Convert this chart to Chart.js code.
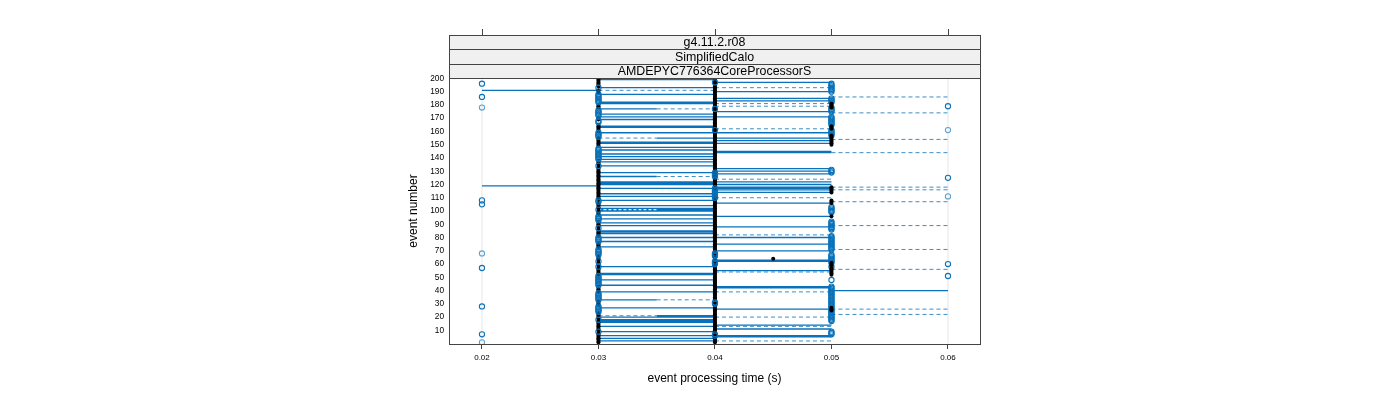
<!DOCTYPE html>
<html>
<head>
<meta charset="utf-8">
<script src="https://cdn.jsdelivr.net/npm/chart.js@4.4.0/dist/chart.umd.min.js"></script>
<style>html,body{margin:0;background:#fff}</style>
</head>
<body>
<canvas id="chart" width="1400" height="400"></canvas>
<script>
// strip labels, top to bottom
const stripLabels = ['g4.11.2.r08', 'SimplifiedCalo', 'AMDEPYC776364CoreProcessorS'];

// axis ticks
const xTicks = [0.02, 0.03, 0.04, 0.05, 0.06];
const xTickLabels = ['0.02', '0.03', '0.04', '0.05', '0.06'];
const yTicks = [10, 20, 30, 40, 50, 60, 70, 80, 90, 100, 110, 120, 130, 140, 150, 160, 170, 180, 190, 200];

// open circles (event numbers) per time value
const open02 = [196, 186, 108, 105, 57, 28, 7];
const open02Light = [178, 68, 1];
const open03 = [193, 188, 187, 186, 185, 184, 183, 182, 176, 175, 174, 173, 172, 168, 167, 159, 158, 157, 156,
  147, 146, 145, 144, 143, 142, 141, 140, 139, 134, 108, 107, 101, 96, 95, 94, 93, 87, 80, 79, 78, 77,
  71, 70, 69, 68, 67, 62, 58, 51, 50, 49, 48, 47, 46, 45, 44, 38, 37, 36, 35, 34, 33, 28, 27, 26, 25, 24, 18, 9];
const open04 = [197, 177, 161, 129, 128, 127, 126, 117, 116, 115, 114, 113, 112, 111, 110, 68, 67, 66, 62, 61, 60, 31, 30, 7, 6];
const open05 = [196, 195, 194, 193, 192, 191, 190, 185, 184, 183, 182, 178, 177, 176, 175, 171, 170, 169, 168, 167,
  166, 165, 161, 160, 159, 158, 157, 131, 130, 129, 103, 102, 101, 100, 99, 92, 91, 90, 89, 88, 87, 86,
  81, 80, 79, 78, 77, 76, 75, 74, 73, 72, 71, 67, 66, 65, 64, 63, 62, 61, 58, 48, 43, 42, 41, 40, 39, 38,
  37, 36, 35, 34, 33, 32, 31, 30, 29, 28, 27, 26, 25, 24, 23, 22, 21, 20, 19, 18, 17, 9, 8, 7];
const open06 = [179, 125, 60, 51];
const open06Light = [161, 111];

// filled black dots (event numbers) per time value
const black03 = [200, 199, 198, 197, 196, 195, 194, 191, 190, 189, 180, 179, 178, 170, 169, 165, 164, 163, 162, 161,
  160, 155, 154, 153, 152, 151, 150, 149, 138, 137, 136, 135, 133, 132, 131, 130, 129, 128, 127, 126, 125,
  124, 123, 122, 121, 120, 119, 118, 117, 116, 115, 114, 113, 112, 111, 110, 109, 106, 105, 104, 103, 102,
  100, 99, 98, 92, 91, 90, 89, 88, 86, 85, 84, 83, 82, 81, 76, 75, 74, 73, 72, 66, 65, 64, 63, 61, 60, 59,
  57, 56, 55, 54, 53, 52, 43, 42, 41, 40, 39, 32, 31, 30, 29, 23, 22, 21, 20, 19, 17, 16, 15, 14, 13, 12,
  11, 10, 8, 7, 6, 5, 4, 3, 2, 1];
const black04 = [200, 199, 198, 197, 196, 195, 194, 193, 192, 191, 190, 189, 188, 187, 186, 185, 184, 183, 182, 181,
  180, 179, 178, 177, 176, 175, 174, 173, 172, 171, 170, 169, 168, 167, 166, 165, 164, 163, 162, 161,
  160, 159, 158, 157, 156, 155, 154, 153, 152, 151, 150, 149, 148, 147, 146, 145, 144, 143, 142, 141,
  140, 139, 138, 137, 136, 135, 134, 133, 132, 131, 130, 129, 128, 127, 126, 125, 124, 123, 122, 121,
  120, 119, 118, 117, 116, 115, 114, 113, 112, 111, 110, 109, 108, 107, 106, 105, 104, 103, 102, 101,
  100, 99, 98, 97, 96, 95, 94, 93, 92, 91, 90, 89, 88, 87, 86, 85, 84, 83, 82, 81,
  80, 79, 78, 77, 76, 75, 74, 73, 72, 71, 70, 69, 68, 67, 66, 65, 64, 63, 62, 61,
  60, 59, 58, 57, 56, 55, 54, 53, 52, 51, 50, 49, 48, 47, 46, 45, 44, 43, 42, 41,
  40, 39, 38, 37, 36, 35, 34, 33, 32, 31, 30, 29, 28, 27, 26, 25, 24, 23, 22, 21,
  20, 19, 18, 17, 16, 15, 14, 13, 12, 11, 10, 9, 8, 7, 6, 5, 4, 3, 2, 1];
const black045 = [64];
const black05 = [181, 180, 179, 178, 164, 163, 162, 157, 156, 155, 154, 153, 152, 151, 150, 118, 117, 116, 115, 114,
  108, 107, 106, 96, 61, 60, 59, 58, 57, 56, 55, 54, 53, 52, 27, 26, 25];

// horizontal segments (event numbers) by span
const solid02to03 = [191, 119];
const solid03to04 = [199, 193, 188, 182, 181, 173, 171, 169, 164, 163, 159, 152, 151, 148, 146, 143, 141, 139, 137, 134,
  129, 122, 121, 120, 117, 113, 111, 108, 104, 102, 101, 100, 97, 94, 91, 89, 85, 84, 83, 80, 77, 73,
  58, 53, 52, 48, 44, 39, 27, 20, 18, 17, 16, 13, 9, 6, 4, 2];
const solid03to035 = [177, 126, 33];
const solid035to04 = [155, 21];
const solid04to05 = [197, 190, 185, 183, 175, 171, 159, 155, 153, 151, 145, 144, 132, 130, 128, 122, 120, 118, 117, 116,
  114, 106, 96, 88, 80, 75, 70, 63, 62, 55, 43, 42, 26, 14, 11, 6, 5];
const solid05to06 = [40];
const dash03to04 = [191];
const dash03to035 = [155, 21];
const dash035to04 = [177, 126, 33];
const paleDash03to035 = [101];
const dash04to05 = [193, 181, 179, 162, 124, 120, 110, 82, 54, 39, 20, 13, 2];
const dash05to06 = [186, 174, 154, 144, 118, 116, 107, 89, 71, 56, 26, 22];

const refLines = [0.02, 0.06];

const blue = '#0a72ba';

function pts(x, evs) { return evs.map(e => ({x: x, y: e})); }
function segs(groups) {
  const out = [];
  groups.forEach(([x0, x1, evs]) => evs.forEach(e => {
    out.push({x: x0, y: e}, {x: x1, y: e}, {x: x1, y: null});
  }));
  return out;
}

const circleDs = (data, alpha) => ({
  data, showLine: false, pointRadius: 2.6, pointBorderWidth: 1.1,
  pointBackgroundColor: 'rgba(0,0,0,0)', pointBorderColor: alpha < 1 ? 'rgba(10,114,186,' + alpha + ')' : blue
});
const dotDs = data => ({
  data, showLine: false, pointRadius: 2, pointBorderWidth: 0, pointBackgroundColor: '#000'
});
const lineDs = (data, color, width, dash) => ({
  data, showLine: true, spanGaps: false, pointRadius: 0, borderColor: color, borderWidth: width, borderDash: dash
});

const datasets = [
  dotDs(pts(0.05, black05)),
  circleDs(pts(0.02, open02), 1),
  circleDs(pts(0.02, open02Light), 0.65),
  circleDs(pts(0.03, open03), 1),
  circleDs(pts(0.04, open04), 1),
  circleDs(pts(0.05, open05), 1),
  circleDs(pts(0.06, open06), 1),
  circleDs(pts(0.06, open06Light), 0.65),
  dotDs(pts(0.03, black03)),
  dotDs(pts(0.04, black04)),
  dotDs(pts(0.045, black045)),
  lineDs(segs([[0.03, 0.035, paleDash03to035]]), 'rgba(235,243,250,0.95)', 1.2, [3, 2]),
  lineDs(segs([[0.02, 0.03, solid02to03], [0.03, 0.04, solid03to04], [0.03, 0.035, solid03to035],
    [0.035, 0.04, solid035to04], [0.04, 0.05, solid04to05], [0.05, 0.06, solid05to06]]), blue, 1.3, []),
  lineDs(segs([[0.03, 0.04, dash03to04], [0.03, 0.035, dash03to035], [0.035, 0.04, dash035to04],
    [0.04, 0.05, dash04to05], [0.05, 0.06, dash05to06]]), 'rgba(10,114,186,0.8)', 1, [4, 3]),
  lineDs(refLines.flatMap(x => [{x: x, y: 0}, {x: x, y: 200}, {x: x, y: null}]), '#e6e6e6', 1, [])
];

const lattice = {
  id: 'lattice',
  afterDraw(chart) {
    const {ctx, chartArea: a} = chart;
    const x = chart.scales.x;
    ctx.save();
    ctx.strokeStyle = '#444';
    ctx.lineWidth = 1;
    ctx.strokeRect(Math.round(a.left) + 0.5, Math.round(a.top) + 0.5,
      Math.round(a.right - a.left), Math.round(a.bottom - a.top));
    const stripH = 14.5;
    const top = a.top - stripH * stripLabels.length;
    ctx.font = '12.4px "Liberation Sans", Arial, sans-serif';
    ctx.textAlign = 'center';
    ctx.textBaseline = 'middle';
    stripLabels.forEach((lab, i) => {
      const y0 = Math.round(top + i * stripH) + 0.5;
      const y1 = Math.round(top + (i + 1) * stripH) + 0.5;
      ctx.fillStyle = '#f0f0f0';
      ctx.fillRect(a.left + 0.5, y0, a.right - a.left, y1 - y0);
      ctx.strokeRect(Math.round(a.left) + 0.5, y0, Math.round(a.right - a.left), y1 - y0);
      ctx.fillStyle = '#000';
      ctx.fillText(lab, (a.left + a.right) / 2, (y0 + y1) / 2 + 0.5);
    });
    // ticks above the strips
    ctx.beginPath();
    xTicks.forEach(v => {
      const px = Math.round(x.getPixelForValue(v)) + 0.5;
      ctx.moveTo(px, Math.round(top));
      ctx.lineTo(px, Math.round(top) - 6);
    });
    ctx.stroke();
    ctx.restore();
  }
};

Chart.defaults.font.family = '"Liberation Sans", Arial, sans-serif';
Chart.defaults.color = '#000';

new Chart(document.getElementById('chart'), {
  type: 'scatter',
  data: {datasets},
  options: {
    responsive: false,
    animation: false,
    events: [],
    layout: {padding: {left: 406, right: 420, top: 78, bottom: 14}},
    plugins: {legend: {display: false}, tooltip: {enabled: false}},
    scales: {
      x: {
        type: 'linear',
        min: 0.01717,
        max: 0.06275,
        afterBuildTicks: s => { s.ticks = xTicks.map(v => ({value: v})); },
        afterFit: s => { s.height = 400 - 344 - 14; },
        ticks: {font: {size: 8}, padding: 4, maxRotation: 0, callback: (v, i) => xTickLabels[i]},
        grid: {drawOnChartArea: false, drawTicks: true, tickLength: 5, color: '#444'},
        border: {display: false},
        title: {display: true, text: 'event processing time (s)', font: {size: 12}, padding: {top: 0, bottom: 0}}
      },
      y: {
        type: 'linear',
        min: -0.3,
        max: 200.3,
        afterBuildTicks: s => { s.ticks = yTicks.map(v => ({value: v})); },
        afterFit: s => { s.width = 43; },
        ticks: {font: {size: 8.3}, padding: 5, callback: v => String(v)},
        grid: {display: false, drawTicks: false},
        border: {display: false},
        title: {display: true, text: 'event number', font: {size: 12}, padding: {top: 0, bottom: 0}}
      }
    }
  },
  plugins: [lattice]
});
</script>
</body>
</html>
